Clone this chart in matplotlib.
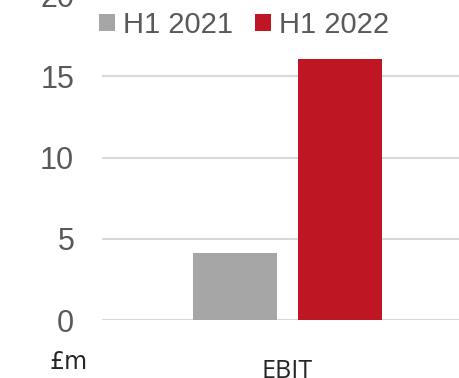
import matplotlib
matplotlib.use("Agg")
import matplotlib.pyplot as plt
from matplotlib.patches import Patch

categories = ["EBIT"]
series_names = ["H1 2021", "H1 2022"]
values_2021 = [4.1]
values_2022 = [16.1]
y_ticks = [0, 5, 10, 15, 20]
colors = ["#A6A6A6", "#BE1622"]

W, H = 459, 378
fig = plt.figure(figsize=(W / 100, H / 100), dpi=100)
fig.patch.set_facecolor("white")

ax = fig.add_axes([102 / W, 1 - 320 / H, 371 / W, 324.8 / H])

offset = 0.1415
width = 0.226
x = list(range(len(categories)))
ax.bar([i - offset for i in x], values_2021, width=width, color=colors[0], zorder=3)
ax.bar([i + offset for i in x], values_2022, width=width, color=colors[1], zorder=3)

ax.set_xlim(-0.5, 0.5)
ax.set_ylim(0, 20)
ax.set_yticks(y_ticks)
ax.set_yticklabels([str(t) for t in y_ticks], fontsize=22, color="#595959",
                   family="Liberation Sans")
ax.tick_params(axis="y", length=0, pad=20)
ax.set_xticks(x)
ax.set_xticklabels(categories, fontsize=18, color="#262626", family="Open Sans")
ax.tick_params(axis="x", length=0, pad=28)

ax.yaxis.grid(True, color="#D9D9D9", linewidth=1.5, zorder=0)
ax.set_axisbelow(True)
for s in ax.spines.values():
    s.set_visible(False)

handles = [Patch(facecolor=c, edgecolor="none") for c in colors]
fig.legend(handles, series_names, loc="center", bbox_to_anchor=(244 / W, 1 - 25 / H),
           ncol=2, frameon=False, prop={"family": "Liberation Sans", "size": 21},
           labelcolor="#595959", handlelength=0.55, handleheight=0.55,
           handletextpad=0.28, columnspacing=0.75, borderpad=0.2)

fig.text(69 / W, 1 - 362 / H, "£m", ha="center", va="center", fontsize=17,
         color="#262626", family="DejaVu Sans")

fig.savefig("out.png", dpi=100, facecolor="white")
